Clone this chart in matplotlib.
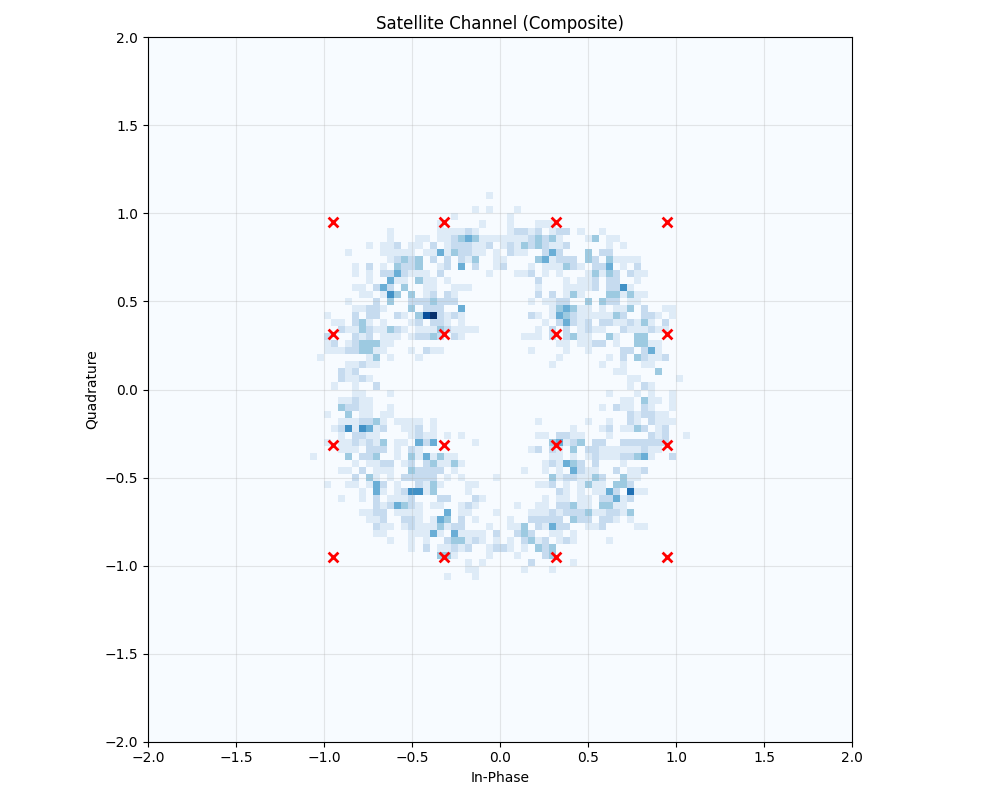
import numpy as np
import matplotlib
matplotlib.use("Agg")
import matplotlib.pyplot as plt

## 16-QAM reference points
ref_i = [-0.949, -0.316, 0.316, 0.949]
ref_q = [-0.949, -0.316, 0.316, 0.949]

N_BINS = 100
RANGE = 2.0

# histogram counts per quadrant, {row: {column: count}}
# rows are offsets from the top edge row, columns from the left edge column
upper_left = {
    1: {25: 1},
    3: {23: 1, 25: 1},
    4: {20: 1},
    5: {18: 1, 24: 1},
    6: {11: 1, 18: 1, 19: 1, 20: 1, 21: 1, 22: 2, 23: 1},
    7: {11: 1, 15: 1, 16: 1, 18: 1, 19: 1, 20: 2, 21: 3, 22: 4, 23: 3, 24: 1, 25: 1, 26: 1},
    8: {8: 1, 10: 1, 11: 1, 12: 2, 14: 1, 15: 1, 17: 2, 19: 1, 20: 2, 21: 2, 22: 2, 23: 1, 24: 1, 25: 2, 27: 1},
    9: {5: 1, 10: 1, 11: 1, 12: 1, 13: 1, 14: 1, 16: 1, 17: 1, 18: 4, 19: 1, 20: 3, 21: 2, 22: 2, 23: 1, 24: 1, 26: 1},
    10: {11: 1, 12: 2, 13: 3, 14: 2, 15: 3, 17: 2, 19: 2, 21: 2, 22: 1, 23: 3, 26: 1, 27: 1},
    11: {6: 1, 8: 2, 10: 1, 12: 3, 13: 2, 14: 2, 15: 3, 18: 1, 19: 2, 21: 4, 23: 2, 26: 1, 27: 2},
    12: {6: 1, 8: 1, 10: 2, 11: 2, 12: 4, 13: 2, 14: 1, 15: 1, 16: 1, 18: 2, 25: 1},
    13: {8: 1, 11: 4, 12: 1, 13: 1, 15: 3, 16: 1, 17: 1, 19: 1},
    14: {6: 1, 7: 1, 9: 2, 10: 4, 11: 2, 13: 3, 16: 1, 17: 1, 20: 1, 21: 1, 22: 1},
    15: {7: 1, 8: 1, 10: 1, 11: 5, 12: 3, 14: 3, 16: 1, 17: 2, 19: 2, 20: 1},
    16: {5: 1, 9: 2, 11: 3, 14: 2, 15: 2, 16: 2, 17: 3, 18: 2, 19: 2, 20: 2},
    17: {6: 1, 7: 1, 8: 2, 9: 2, 10: 1, 14: 3, 16: 2, 17: 2, 18: 2, 21: 4},
    18: {2: 1, 6: 2, 8: 2, 9: 2, 12: 2, 13: 1, 15: 3, 16: 7, 17: 8, 18: 2, 19: 1, 20: 2, 21: 1},
    19: {3: 1, 4: 1, 6: 2, 7: 3, 8: 1, 10: 1, 14: 1, 15: 2, 17: 2, 18: 2, 19: 1, 21: 1},
    20: {4: 2, 5: 1, 6: 1, 7: 3, 8: 2, 9: 1, 10: 1, 11: 3, 12: 2, 13: 1, 15: 1, 16: 1, 17: 1, 18: 3, 19: 2, 20: 1, 21: 1, 22: 1, 23: 1},
    21: {2: 2, 6: 2, 7: 1, 8: 2, 10: 1, 11: 1, 12: 1, 14: 1, 15: 2, 16: 2, 17: 3, 18: 2, 20: 2, 21: 1},
    22: {2: 1, 3: 2, 5: 1, 6: 2, 7: 3, 8: 3, 9: 3, 10: 1, 11: 1},
    23: {2: 1, 3: 1, 4: 1, 5: 2, 6: 2, 7: 3, 8: 3, 9: 1, 10: 1, 14: 1, 16: 2, 17: 1, 18: 1},
    24: {1: 1, 8: 1, 9: 3, 11: 1, 15: 1},
    25: {5: 1, 6: 1, 7: 2, 8: 1, 9: 1},
    26: {4: 2, 5: 1, 6: 2},
    27: {4: 2, 5: 1, 6: 1, 7: 2, 8: 1},
    28: {3: 1, 6: 1, 9: 2},
}

upper_right = {
    3: {2: 1},
    4: {1: 1},
    5: {1: 1, 5: 1, 6: 1, 7: 1},
    6: {1: 1, 2: 2, 3: 2, 4: 1, 5: 2, 7: 1, 8: 2, 9: 2, 11: 1, 14: 1},
    7: {0: 1, 1: 1, 2: 1, 3: 1, 4: 2, 5: 3, 6: 2, 7: 3, 8: 1, 12: 1, 13: 3, 15: 1, 16: 1},
    8: {0: 1, 1: 2, 2: 1, 3: 3, 4: 2, 5: 3, 6: 2, 7: 1, 8: 1, 9: 2, 15: 1, 17: 1},
    9: {1: 2, 2: 1, 3: 1, 6: 2, 7: 4, 8: 2, 12: 3, 14: 2, 15: 2},
    10: {0: 1, 5: 3, 6: 4, 7: 1, 8: 2, 9: 2, 10: 2, 12: 3, 13: 2, 15: 3, 16: 1, 17: 1, 18: 1, 19: 1},
    11: {0: 2, 4: 1, 6: 1, 7: 1, 8: 1, 9: 3, 10: 2, 11: 1, 13: 2, 14: 2, 15: 4, 17: 1, 19: 2},
    12: {2: 1, 3: 1, 4: 2, 6: 1, 8: 1, 12: 1, 13: 3, 14: 1, 15: 3, 16: 2, 18: 2, 19: 1, 20: 1},
    13: {5: 2, 9: 1, 11: 1, 12: 1, 13: 2, 15: 2, 16: 2, 19: 1},
    14: {5: 1, 9: 1, 10: 1, 11: 1, 12: 1, 13: 2, 15: 2, 16: 2, 17: 5, 18: 1},
    15: {5: 2, 7: 2, 9: 1, 10: 3, 11: 1, 15: 3, 16: 3, 17: 1, 18: 3, 19: 1, 20: 1},
    16: {4: 1, 6: 1, 7: 1, 8: 2, 9: 2, 12: 3, 14: 3, 15: 2, 16: 2, 18: 1, 19: 1},
    17: {7: 1, 8: 3, 9: 4, 10: 3, 11: 1, 12: 1, 14: 1, 16: 1, 17: 1, 18: 3, 20: 2, 23: 1, 24: 1},
    18: {4: 2, 5: 1, 7: 1, 8: 4, 9: 3, 10: 2, 11: 1, 12: 1, 13: 1, 14: 1, 15: 1, 16: 3, 17: 2, 20: 2, 21: 2, 22: 1, 24: 1},
    19: {6: 1, 8: 2, 9: 4, 10: 2, 11: 1, 12: 2, 14: 2, 15: 2, 16: 1, 17: 1, 18: 2, 19: 1, 20: 3, 21: 1, 23: 2},
    20: {5: 1, 7: 2, 9: 2, 11: 1, 12: 2, 13: 1, 14: 1, 17: 2, 18: 1, 19: 1, 20: 1, 21: 2, 22: 1, 23: 1},
    21: {3: 1, 4: 1, 5: 1, 7: 2, 9: 2, 10: 3, 11: 1, 12: 1, 15: 3, 16: 1, 19: 3, 20: 3},
    22: {8: 1, 9: 1, 11: 1, 12: 1, 13: 2, 14: 2, 16: 1, 19: 3, 20: 3, 21: 1, 22: 1},
    23: {4: 1, 9: 1, 12: 1, 17: 2, 18: 2, 20: 2, 21: 4, 22: 1},
    24: {8: 1, 15: 1, 17: 2, 19: 3, 20: 2, 21: 1, 22: 1, 23: 2},
    25: {7: 1, 14: 1, 17: 1, 20: 1, 21: 1},
    26: {16: 1, 17: 1, 22: 3},
    27: {18: 1, 19: 1, 25: 1},
    28: {18: 1, 20: 2, 21: 1},
}

lower_left = {
    0: {3: 1, 6: 1, 9: 2},
    1: {6: 1, 7: 1, 11: 1},
    2: {4: 1, 5: 1, 6: 2, 7: 1, 8: 1},
    3: {4: 3, 5: 2, 6: 2, 7: 1, 8: 1, 11: 1},
    4: {2: 1, 5: 3, 7: 1, 8: 1, 10: 1, 11: 1},
    5: {4: 1, 5: 1, 6: 1, 7: 2, 8: 2, 9: 3, 10: 1, 12: 1, 13: 1, 14: 1, 15: 1, 17: 1},
    6: {3: 1, 4: 2, 5: 5, 6: 1, 7: 5, 8: 4, 9: 1, 10: 2, 13: 1, 14: 1, 15: 2, 17: 1},
    7: {4: 1, 6: 2, 7: 2, 8: 1, 9: 1, 14: 1, 15: 2, 16: 1, 17: 1, 19: 1, 21: 1},
    8: {2: 1, 4: 1, 5: 1, 6: 2, 7: 1, 8: 2, 9: 1, 10: 3, 12: 1, 13: 1, 15: 4, 16: 2, 17: 4, 23: 1},
    9: {4: 1, 5: 1, 6: 1, 8: 2, 9: 2, 10: 2, 12: 1, 14: 2, 15: 1},
    10: {0: 1, 5: 3, 7: 2, 8: 2, 9: 3, 12: 1, 14: 3, 15: 1, 16: 4, 17: 1, 18: 3, 19: 1, 20: 1},
    11: {6: 1, 8: 1, 9: 1, 10: 2, 11: 2, 13: 1, 14: 2, 16: 2, 17: 3, 18: 1, 19: 1, 20: 3, 21: 1},
    12: {4: 1, 5: 1, 7: 2, 9: 1, 10: 1, 11: 1, 14: 3, 15: 2, 16: 2, 17: 2, 18: 2, 20: 1},
    13: {6: 2, 8: 3, 9: 1, 11: 1, 13: 2, 14: 2, 15: 2, 16: 2, 17: 2, 19: 1, 21: 1, 26: 1},
    14: {2: 1, 5: 1, 6: 1, 8: 1, 9: 4, 10: 2, 12: 1, 15: 2, 16: 1, 17: 3, 18: 1, 22: 1, 23: 1},
    15: {7: 1, 9: 4, 10: 1, 12: 1, 13: 2, 14: 5, 15: 5, 16: 1, 17: 3, 22: 1},
    16: {4: 1, 7: 1, 9: 2, 11: 1, 12: 1, 13: 1, 14: 2, 18: 2, 19: 2, 23: 2, 24: 1},
    17: {9: 2, 10: 1, 11: 2, 12: 4, 13: 3, 14: 2, 15: 1, 17: 1, 18: 1, 21: 1, 22: 2, 23: 1},
    18: {7: 1, 8: 1, 9: 2, 10: 2, 12: 1, 13: 1, 14: 1, 15: 1, 19: 4, 21: 1, 22: 1, 26: 1},
    19: {8: 1, 9: 1, 10: 2, 13: 2, 14: 2, 15: 1, 17: 1, 18: 4, 19: 3, 21: 2, 23: 1},
    20: {9: 2, 10: 1, 11: 1, 13: 1, 14: 2, 15: 1, 16: 1, 17: 1, 18: 3, 19: 1, 20: 2, 21: 2, 25: 1},
    21: {9: 1, 10: 1, 14: 1, 15: 1, 16: 1, 17: 4, 18: 1, 20: 4, 21: 1, 22: 1, 23: 1, 24: 1, 26: 2},
    22: {11: 1, 14: 1, 16: 1, 19: 2, 20: 3, 21: 3, 22: 1, 23: 2, 24: 1, 26: 1},
    23: {14: 1, 16: 2, 18: 1, 19: 1, 20: 2, 21: 1, 22: 2, 25: 1, 26: 2, 27: 2},
    24: {18: 3, 19: 3, 20: 1, 25: 1},
    25: {22: 1, 24: 1},
    26: {22: 1, 23: 1},
    27: {19: 1, 23: 1},
}

lower_right = {
    0: {18: 1, 20: 2, 21: 1},
    1: {15: 1, 19: 1, 21: 1, 24: 1},
    2: {17: 1, 18: 1, 20: 3, 21: 1, 22: 1, 24: 1},
    3: {14: 1, 16: 2, 17: 1, 18: 1, 20: 2, 21: 1, 24: 1},
    4: {18: 2, 19: 1, 20: 2, 21: 2, 22: 1, 23: 1},
    5: {5: 1, 12: 1, 15: 1, 18: 2, 19: 1, 21: 2, 22: 1, 23: 1, 24: 1},
    6: {10: 1, 14: 1, 15: 2, 17: 1, 18: 1, 19: 3, 20: 2, 22: 1, 23: 2},
    7: {5: 1, 6: 1, 8: 2, 9: 2, 10: 1, 11: 1, 15: 1, 21: 2, 22: 1, 23: 2, 26: 1},
    8: {7: 3, 8: 4, 9: 1, 10: 2, 11: 3, 13: 2, 14: 2, 17: 2, 18: 2, 19: 2, 20: 2, 21: 2, 22: 2, 23: 2},
    9: {4: 1, 5: 2, 7: 2, 8: 1, 10: 3, 12: 2, 13: 2, 14: 1, 15: 1, 16: 1, 17: 1, 18: 1, 19: 1, 20: 2, 21: 1, 22: 1},
    10: {7: 1, 8: 1, 10: 1, 12: 1, 13: 2, 14: 1, 15: 1, 16: 1, 17: 2, 18: 2, 19: 3, 20: 4, 21: 1, 24: 2},
    11: {6: 1, 7: 2, 8: 1, 9: 4, 10: 3, 11: 2, 13: 2, 17: 1},
    12: {3: 1, 6: 1, 8: 1, 10: 4, 11: 2, 12: 1, 13: 1, 16: 2, 18: 1, 19: 1, 20: 2},
    13: {7: 3, 8: 1, 9: 2, 10: 2, 11: 1, 12: 1, 13: 3, 14: 2, 17: 3, 18: 1, 19: 1},
    14: {5: 1, 6: 1, 7: 2, 9: 1, 11: 1, 12: 3, 13: 1, 14: 1, 16: 3, 17: 3, 18: 2},
    15: {8: 2, 9: 1, 11: 1, 13: 1, 14: 1, 15: 4, 16: 2, 18: 6, 19: 1, 20: 1},
    16: {6: 1, 8: 1, 9: 1, 11: 1, 12: 1, 14: 2, 15: 2, 16: 4, 17: 1, 18: 2},
    17: {2: 1, 5: 1, 6: 1, 8: 2, 9: 2, 10: 3, 11: 1, 12: 1, 14: 3, 15: 3, 16: 1, 17: 1},
    18: {4: 1, 5: 1, 6: 1, 7: 2, 8: 1, 9: 2, 10: 2, 11: 2, 12: 3, 13: 1, 14: 1, 15: 2, 16: 2, 17: 1, 18: 3},
    19: {1: 1, 4: 2, 5: 2, 6: 2, 7: 2, 8: 2, 10: 3, 11: 2, 12: 2, 14: 2, 15: 2, 16: 1, 18: 1},
    20: {1: 1, 2: 1, 3: 3, 5: 2, 6: 1, 7: 4, 8: 2, 9: 2, 12: 1, 13: 1, 14: 2, 19: 1, 20: 1},
    21: {2: 2, 3: 3, 4: 2, 7: 1, 8: 1, 10: 1},
    22: {1: 1, 3: 2, 4: 3, 5: 1, 6: 2, 8: 1, 9: 2, 10: 1, 15: 1},
    23: {0: 2, 1: 1, 3: 1, 5: 3, 6: 2, 7: 3},
    24: {2: 1, 6: 2, 7: 3},
    25: {4: 2, 10: 1},
    26: {3: 1, 7: 1},
}

# first histogram row / column of each quadrant table
UPPER_ROW, LOWER_ROW = 21, 49
LEFT_COL, RIGHT_COL = 23, 50

counts = np.zeros((N_BINS, N_BINS))
quadrants = [(upper_left, UPPER_ROW, LEFT_COL), (upper_right, UPPER_ROW, RIGHT_COL),
             (lower_left, LOWER_ROW, LEFT_COL), (lower_right, LOWER_ROW, RIGHT_COL)]
for table, row0, col0 in quadrants:
    for row, cells in table.items():
        for col, n in cells.items():
            # rows count down from the top of the axes
            iy = N_BINS - 1 - (row0 + row)
            ix = col0 + col
            counts[iy, ix] = max(counts[iy, ix], n)

edges = np.linspace(-RANGE, RANGE, N_BINS + 1)

fig, ax = plt.subplots(figsize=(10, 8), dpi=100)
ax.pcolormesh(edges, edges, counts, cmap="Blues", vmin=0, vmax=counts.max(),
              edgecolors="none", antialiased=False)

# constellation points on top of the histogram
pts_i, pts_q = np.meshgrid(ref_i, ref_q)
ax.scatter(pts_i.ravel(), pts_q.ravel(), c="red", marker="x", s=50, linewidths=2, zorder=3)

ax.set_xlim(-RANGE, RANGE)
ax.set_ylim(-RANGE, RANGE)
ax.set_aspect("equal")
ax.grid(True, alpha=0.3)
ax.set_xlabel("In-Phase")
ax.set_ylabel("Quadrature")
ax.set_title("Satellite Channel (Composite)")

fig.tight_layout()
fig.savefig("out.png", dpi=100)
